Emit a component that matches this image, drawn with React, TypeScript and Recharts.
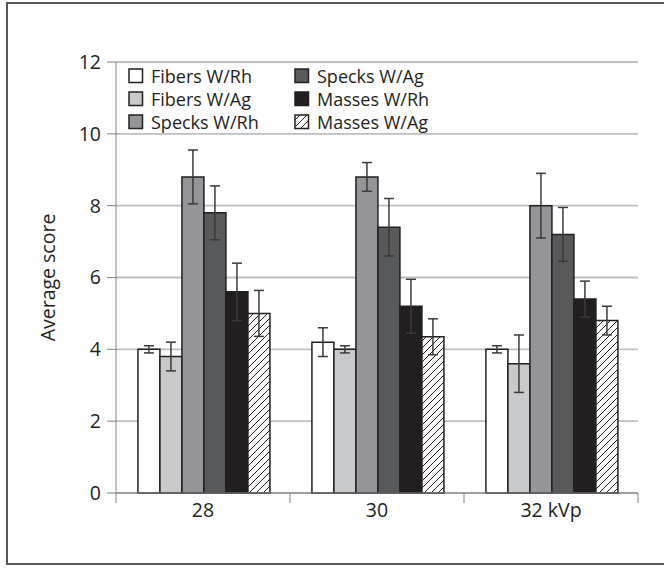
import React from 'react';
import { BarChart, Bar, XAxis, YAxis, CartesianGrid, Legend, ErrorBar, Label } from 'recharts';

const categories = ['28', '30', '32 kVp'];
const seriesNames = ['Fibers W/Rh', 'Fibers W/Ag', 'Specks W/Rh', 'Specks W/Ag', 'Masses W/Rh', 'Masses W/Ag'];
const seriesFills = ['#ffffff', '#c8c9cb', '#939598', '#58595b', '#231f20', 'url(#hatch)'];

const fibersRh = [4.0, 4.2, 4.0];
const fibersRhErr = [0.1, 0.4, 0.1];
const fibersAg = [3.8, 4.0, 3.6];
const fibersAgErr = [0.4, 0.1, 0.8];
const specksRh = [8.8, 8.8, 8.0];
const specksRhErr = [0.75, 0.4, 0.9];
const specksAg = [7.8, 7.4, 7.2];
const specksAgErr = [0.75, 0.8, 0.75];
const massesRh = [5.6, 5.2, 5.4];
const massesRhErr = [0.8, 0.75, 0.5];
const massesAg = [5.0, 4.35, 4.8];
const massesAgErr = [0.64, 0.5, 0.4];

const yTicks = [0, 2, 4, 6, 8, 10, 12];

const seriesValues = [fibersRh, fibersAg, specksRh, specksAg, massesRh, massesAg];
const seriesErrors = [fibersRhErr, fibersAgErr, specksRhErr, specksAgErr, massesRhErr, massesAgErr];

const data = categories.map((c, i) => {
  const row: any = { name: c };
  seriesValues.forEach((vals, s) => {
    row['s' + s] = vals[i];
    row['e' + s] = seriesErrors[s][i];
  });
  return row;
});

const FONT = '"Open Sans", "Noto Sans", sans-serif';
const FS = 19.5;
const LEGEND_FS = 18;
const INK = '#231f20';
const AXIS = '#808285';
const X_TICK_SIZE = 10;
const X_TICK_MARGIN = 0;

const XTick = (props: any) => {
  const { x, y, payload, index, visibleTicksCount } = props;
  const half = payload && payload.offset ? payload.offset : 0;
  const axisY = y - X_TICK_SIZE - X_TICK_MARGIN;
  const isLast = index === visibleTicksCount - 1;
  return (
    <g>
      <line x1={x - half} x2={x - half} y1={axisY} y2={axisY + X_TICK_SIZE} stroke={AXIS} strokeWidth={1} />
      {isLast && (
        <line x1={x + half} x2={x + half} y1={axisY} y2={axisY + X_TICK_SIZE} stroke={AXIS} strokeWidth={1} />
      )}
      <text x={x} y={y} dy="0.71em" textAnchor="middle" fill={INK} fontSize={FS} fontFamily={FONT}>
        {payload.value}
      </text>
    </g>
  );
};

const renderLegend = () => (
  <div
    style={{
      display: 'grid',
      gridAutoFlow: 'column',
      gridTemplateRows: 'repeat(3, 22.8px)',
      gridTemplateColumns: '166px 170px',
      fontFamily: FONT,
      fontSize: LEGEND_FS,
      color: INK,
      background: '#fff',
    }}
  >
    {seriesNames.map((n, i) => (
      <div key={n} style={{ display: 'flex', alignItems: 'center', whiteSpace: 'nowrap', height: 22.8 }}>
        <svg width={16} height={16} style={{ display: 'block', flex: 'none' }}>
          <rect x={1} y={1} width={13.5} height={13.5} fill={seriesFills[i]} stroke={INK} strokeWidth={1.5} />
        </svg>
        <span style={{ marginLeft: 7, lineHeight: '22.8px' }}>{n}</span>
      </div>
    ))}
  </div>
);

const YLabel = (props: any) => {
  const vb = props.viewBox || { x: 0, y: 0, width: 0, height: 0 };
  const cx = vb.x + 47;
  const cy = vb.y + vb.height / 2;
  return (
    <text
      transform={`translate(${cx},${cy}) rotate(-90)`}
      textAnchor="middle"
      dominantBaseline="central"
      fill={INK}
      fontSize={FS}
      fontFamily={FONT}
    >
      Average score
    </text>
  );
};

export default function App() {
  return (
    <div style={{ position: 'absolute', left: 0, top: 0, width: 664, height: 573, background: '#fff' }}>
      <div
        style={{
          position: 'absolute',
          left: 6,
          top: 2,
          width: 658,
          height: 563,
          boxSizing: 'border-box',
          borderTop: '2px solid #58595b',
          borderLeft: '2px solid #58595b',
          borderBottom: '2px solid #58595b',
        }}
      />
      <div style={{ position: 'absolute', left: 0, top: 0 }}>
        <BarChart
          width={664}
          height={573}
          data={data}
          margin={{ top: 62, right: 26, bottom: 0, left: 0 }}
          barCategoryGap="12.6%"
          barGap={0}
        >
          <defs>
            <pattern id="hatch" patternUnits="userSpaceOnUse" width={7} height={7}>
              <rect x={0} y={0} width={7} height={7} fill="#ffffff" />
              <path d="M0,7 L7,0 M-1,1 L1,-1 M6,8 L8,6" stroke={INK} strokeWidth={1} />
            </pattern>
          </defs>
          <CartesianGrid vertical={false} stroke="#bcbec0" strokeWidth={1.8} />
          <XAxis
            dataKey="name"
            height={80}
            axisLine={{ stroke: AXIS, strokeWidth: 1 }}
            tickLine={false}
            tickSize={X_TICK_SIZE}
            tickMargin={X_TICK_MARGIN}
            tick={<XTick />}
            interval={0}
          />
          <YAxis
            width={116}
            domain={[0, 12]}
            ticks={yTicks}
            interval={0}
            axisLine={{ stroke: AXIS, strokeWidth: 1 }}
            tickLine={{ stroke: AXIS, strokeWidth: 1 }}
            tickSize={9}
            tickMargin={6}
            tick={{ fill: INK, fontSize: FS, fontFamily: FONT }}
          >
            <Label content={<YLabel />} />
          </YAxis>
          <Legend
            layout="horizontal"
            verticalAlign="middle"
            align="center"
            content={renderLegend}
            wrapperStyle={{ position: 'absolute', left: 128, top: 65, width: 'auto', height: 'auto' }}
          />
          {seriesNames.map((n, s) => (
            <Bar
              key={n}
              dataKey={'s' + s}
              name={n}
              fill={seriesFills[s]}
              stroke={INK}
              strokeWidth={1.5}
              isAnimationActive={false}
            >
              <ErrorBar dataKey={'e' + s} width={5} stroke="#3a3a3c" strokeWidth={1.5} direction="y" />
            </Bar>
          ))}
        </BarChart>
      </div>
    </div>
  );
}
